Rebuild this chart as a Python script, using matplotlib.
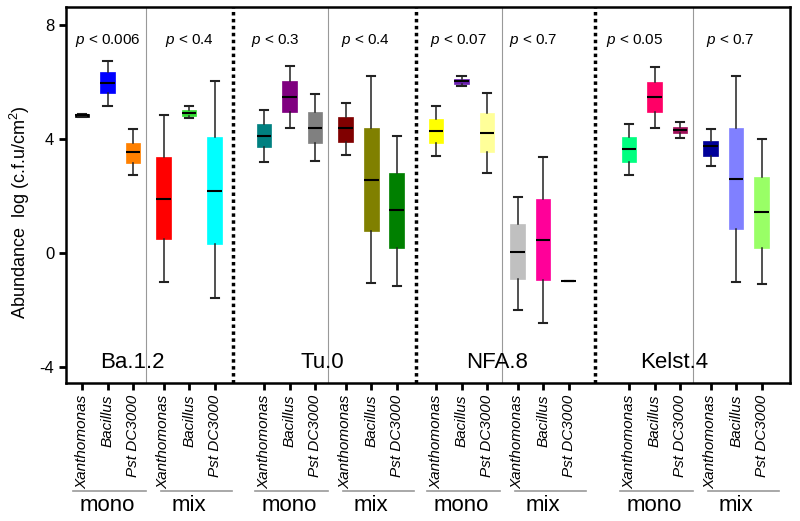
import matplotlib
matplotlib.use("Agg")
import matplotlib.pyplot as plt
import matplotlib.transforms as mtransforms

plt.rcParams['font.family'] = ['Liberation Sans', 'DejaVu Sans']
plt.rcParams['axes.unicode_minus'] = False
plt.rcParams['mathtext.fontset'] = 'custom'
plt.rcParams['mathtext.rm'] = 'Liberation Sans'
plt.rcParams['mathtext.it'] = 'Liberation Sans:italic'

# data: one box per strain / treatment / bacterium
genotypes = ['Ba.1.2', 'Tu.0', 'NFA.8', 'Kelst.4']
bacteria = ['Xanthomonas', 'Bacillus', 'Pst DC3000']
treatments = ['mono', 'mix']
p_values = [['p < 0.006', 'p < 0.4'],
            ['p < 0.3', 'p < 0.4'],
            ['p < 0.07', 'p < 0.7'],
            ['p < 0.05', 'p < 0.7']]

# (whislo, q1, med, q3, whishi) in order: Xan mono, Bac mono, Pst mono, Xan mix, Bac mix, Pst mix
ba12 = [(4.78, 4.80, 4.84, 4.89, 4.90),
        (5.19, 5.64, 5.99, 6.36, 6.77),
        (2.74, 3.18, 3.57, 3.89, 4.35),
        (-1.01, 0.49, 1.92, 3.38, 4.87),
        (4.74, 4.83, 4.94, 5.03, 5.19),
        (-1.58, 0.32, 2.20, 4.08, 6.04)]
tu0 = [(3.19, 3.73, 4.13, 4.53, 5.03),
       (4.39, 4.98, 5.49, 6.04, 6.58),
       (3.23, 3.88, 4.41, 4.96, 5.59),
       (3.44, 3.92, 4.39, 4.80, 5.29),
       (-1.05, 0.78, 2.58, 4.41, 6.21),
       (-1.13, 0.20, 1.51, 2.81, 4.12)]
nfa8 = [(3.42, 3.88, 4.30, 4.71, 5.18),
        (5.86, 5.96, 6.05, 6.12, 6.22),
        (2.81, 3.56, 4.22, 4.94, 5.64),
        (-1.99, -0.91, 0.04, 1.02, 1.99),
        (-2.43, -0.94, 0.47, 1.92, 3.40),
        (-0.97, -0.97, -0.97, -0.97, -0.97)]
kelst4 = [(2.75, 3.22, 3.65, 4.07, 4.53),
          (4.41, 4.98, 5.50, 6.00, 6.55),
          (4.06, 4.22, 4.33, 4.43, 4.60),
          (3.08, 3.43, 3.77, 3.96, 4.36),
          (-1.02, 0.87, 2.61, 4.41, 6.21),
          (-1.09, 0.20, 1.44, 2.68, 4.00)]
all_data = [ba12, tu0, nfa8, kelst4]

colors = [['#000000', '#0000ff', '#ff8000', '#ff0000', '#33dd33', '#00ffff'],
          ['#008080', '#800080', '#808080', '#800000', '#808000', '#008000'],
          ['#ffff00', '#6a1fb0', '#ffff99', '#c0c0c0', '#ff0099', '#ffffff'],
          ['#00ff80', '#ff0066', '#a0105a', '#000099', '#8080ff', '#99ff66']]

# layout
group_start = [0, 7.14, 13.88, 21.45]
offsets = [0, 1, 2, 3.2, 4.2, 5.2]
divider_off = [2.51, 2.51, 2.59, 2.51]
dotted_x = [5.92, 13.1, 20.12]
label_off = [1.96, 2.27, 2.39, 1.76]
p_off = [[1.0, 4.2], [0.43, 3.96], [0.9, 3.8], [0.2, 3.96]]

fig = plt.figure(figsize=(8, 5.21), dpi=100)
ax = fig.add_axes([0.0825, 0.265, 0.905, 0.7216])

positions, tick_labels = [], []
for g, data in enumerate(all_data):
    for k, (lo, q1, med, q3, hi) in enumerate(data):
        pos = group_start[g] + offsets[k]
        positions.append(pos)
        tick_labels.append(bacteria[k % 3])
        stats = [dict(whislo=lo, q1=q1, med=med, q3=q3, whishi=hi, fliers=[])]
        ax.bxp(stats, positions=[pos], widths=0.57, patch_artist=True,
               showfliers=False,
               boxprops=dict(facecolor=colors[g][k], edgecolor=colors[g][k], linewidth=0.5),
               medianprops=dict(color='black', linewidth=1.5),
               whiskerprops=dict(color='#222222', linewidth=1.1),
               capprops=dict(color='#222222', linewidth=1.5),
               capwidths=0.32, manage_ticks=False)

ax.set_xlim(-0.63, 27.76)
ax.set_ylim(-4.55, 8.65)
ax.set_yticks([-4, 0, 4, 8])
ax.set_xticks(positions)
ax.set_xticklabels(tick_labels, rotation=90, fontstyle='italic', fontsize=11)
ax.tick_params(axis='both', direction='out', length=5, width=2, labelsize=11)
ax.tick_params(axis='y', labelsize=12)
for s in ax.spines.values():
    s.set_linewidth(1.8)

for x in dotted_x:
    ax.axvline(x, color='black', linestyle=(0, (1, 1)), linewidth=2.5)
for g in range(4):
    ax.axvline(group_start[g] + divider_off[g], color='#999999', linewidth=0.8)
    ax.text(group_start[g] + label_off[g], -3.85, genotypes[g], ha='center',
            va='center', fontsize=16)
    for t in range(2):
        p_txt = p_values[g][t].replace('p ', '$\\it{p}$ ', 1)
        ax.text(group_start[g] + p_off[g][t], 7.48, p_txt, ha='center',
                va='center', fontsize=11)

ax.set_ylabel('Abundance  log (c.f.u/cm$^2$)', fontsize=13)
ax.yaxis.set_label_coords(-0.047, 0.455)

# mono / mix group labels below the tick labels
trans = mtransforms.blended_transform_factory(ax.transData, fig.transFigure)
for g in range(4):
    for t in range(2):
        first = group_start[g] + offsets[3 * t]
        last = group_start[g] + offsets[3 * t + 2]
        x0 = first - (0.35 if t == 0 else 0.12)
        x1 = last + (0.5 if t == 0 else 0.67)
        ax.plot([x0, x1], [0.058, 0.058], color='#999999', linewidth=1.2,
                transform=trans, clip_on=False)
        ax.text((first + last) / 2, 0.03, treatments[t], ha='center', va='center',
                fontsize=16, transform=trans)

fig.savefig('out.png', dpi=100)
